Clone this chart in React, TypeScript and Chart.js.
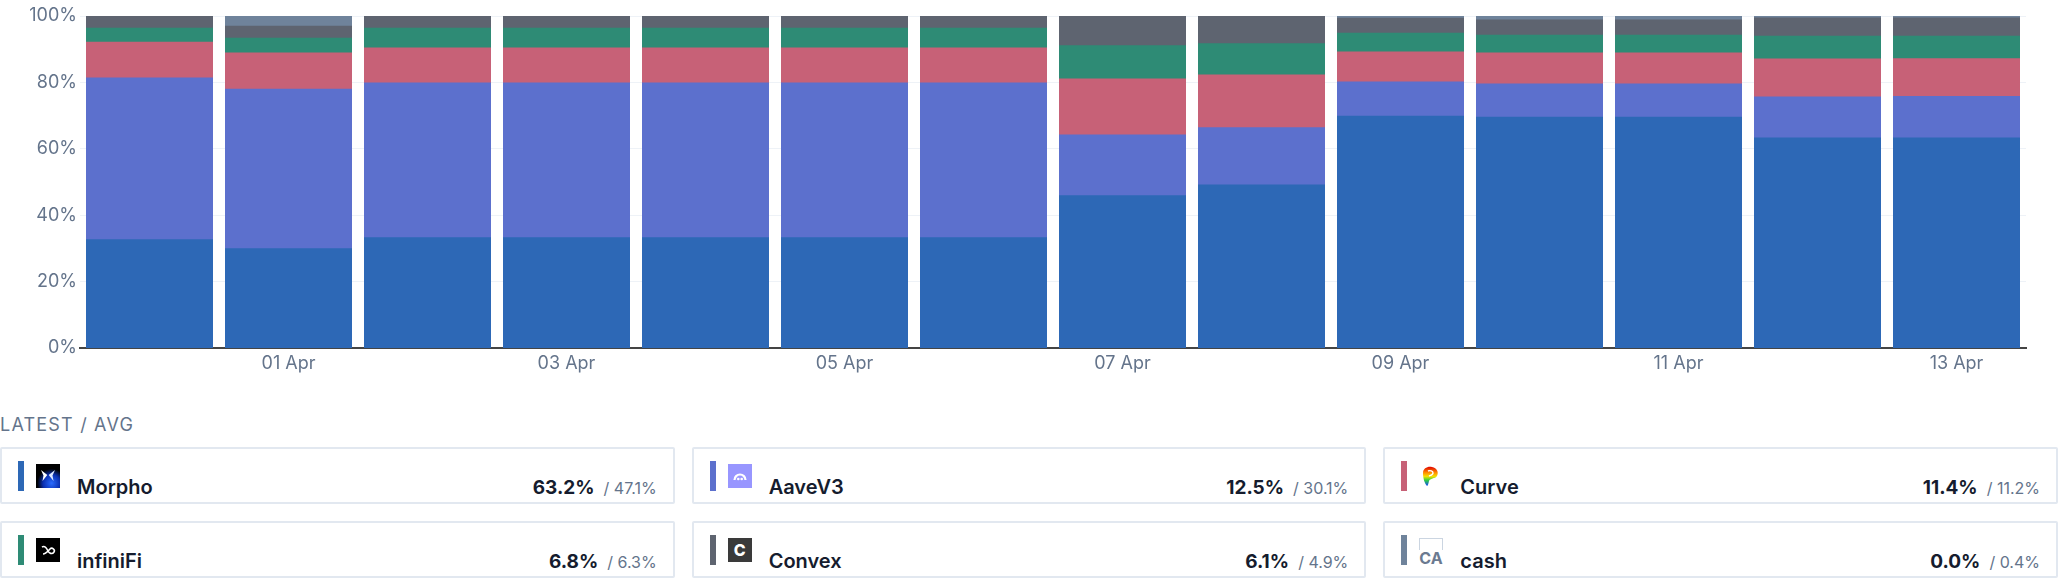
import React, { useEffect, useRef } from "react";
import { Chart, registerables } from "chart.js";

Chart.register(...registerables);

const dates = [
  "31 Mar", "01 Apr", "02 Apr", "03 Apr", "04 Apr", "05 Apr", "06 Apr",
  "07 Apr", "08 Apr", "09 Apr", "10 Apr", "11 Apr", "12 Apr", "13 Apr",
];
const shownTickLabels = ["01 Apr", "03 Apr", "05 Apr", "07 Apr", "09 Apr", "11 Apr", "13 Apr"];
const yTickValues = [0, 20, 40, 60, 80, 100];

const morpho = [32.6, 29.9, 33.2, 33.2, 33.2, 33.2, 33.2, 45.8, 49.1, 69.8, 69.5, 69.5, 63.2, 63.2];
const aaveV3 = [48.7, 48.0, 46.6, 46.6, 46.6, 46.6, 46.6, 18.3, 17.2, 10.3, 10.0, 10.0, 12.4, 12.5];
const curve = [10.8, 10.9, 10.5, 10.5, 10.5, 10.5, 10.5, 16.9, 15.9, 9.0, 9.3, 9.3, 11.4, 11.4];
const infiniFi = [4.2, 4.5, 6.0, 6.0, 6.0, 6.0, 6.0, 10.0, 9.4, 5.7, 5.4, 5.4, 6.9, 6.8];
const convex = [3.7, 3.6, 3.7, 3.7, 3.7, 3.7, 3.7, 9.0, 8.4, 4.5, 4.6, 4.6, 5.5, 5.5];
const cash = [0, 3.1, 0, 0, 0, 0, 0, 0, 0, 0.7, 1.2, 1.2, 0.6, 0.6];

const seriesNames = ["Morpho", "AaveV3", "Curve", "infiniFi", "Convex", "cash"];
const seriesColors = ["#2d68b6", "#5c70cd", "#c76177", "#2e8b75", "#5e6470", "#6f839b"];
const seriesValues = [morpho, aaveV3, curve, infiniFi, convex, cash];

const latestValues = ["63.2%", "12.5%", "11.4%", "6.8%", "6.1%", "0.0%"];
const avgValues = ["47.1%", "30.1%", "11.2%", "6.3%", "4.9%", "0.4%"];
const cardOrder = ["Morpho", "AaveV3", "Curve", "infiniFi", "Convex", "cash"];

const FONT = "Inter, 'Noto Sans', sans-serif";
const TICK_COLOR = "#64748b";

function Icon({ name }: { name: string }) {
  const box: React.CSSProperties = {
    position: "absolute",
    left: 34,
    top: 15,
    width: 24,
    height: 24,
  };
  if (name === "Morpho") {
    return (
      <svg style={box} viewBox="0 0 24 24">
        <defs>
          <radialGradient id="mg" cx="0.65" cy="0.8" r="0.6">
            <stop offset="0" stopColor="#2a6bff" />
            <stop offset="0.6" stopColor="#0a2fb0" />
            <stop offset="1" stopColor="#000" />
          </radialGradient>
        </defs>
        <rect width="24" height="24" fill="#000" />
        <rect width="24" height="24" fill="url(#mg)" />
        <path d="M5 6 L11.3 11 L6.5 17 L7.5 11.5 Z" fill="#fff" />
        <path d="M19 6 L12.7 11 L17.5 17 L16.5 11.5 Z" fill="#dfe8ff" />
      </svg>
    );
  }
  if (name === "AaveV3") {
    return (
      <svg style={box} viewBox="0 0 24 24">
        <rect width="24" height="24" fill="#9896ff" />
        <path d="M6.5 16 A5.5 5.5 0 0 1 17.5 16" stroke="#fff" strokeWidth="2.2" fill="none" />
        <circle cx="10.3" cy="15" r="1.3" fill="#fff" />
        <circle cx="13.7" cy="15" r="1.3" fill="#fff" />
      </svg>
    );
  }
  if (name === "Curve") {
    return (
      <svg style={box} viewBox="0 0 24 24">
        <defs>
          <linearGradient id="cg" x1="0" y1="0" x2="0" y2="1">
            <stop offset="0" stopColor="#e00000" />
            <stop offset="0.3" stopColor="#ff8a00" />
            <stop offset="0.5" stopColor="#f6e000" />
            <stop offset="0.7" stopColor="#30d040" />
            <stop offset="1" stopColor="#1040ff" />
          </linearGradient>
        </defs>
        <path
          d="M4 9 C4 4, 9 2, 13 3 C18 4, 20 8, 18 12 C16 15, 11 14, 10 17 C9.5 19, 9 22, 8 22 C6 20, 4 15, 4 9 Z"
          fill="url(#cg)"
        />
        <path d="M9 7 C11 6, 14 7, 14 9 C14 11, 11 11.5, 10 12" stroke="#fff" strokeWidth="1.4" fill="none" />
      </svg>
    );
  }
  if (name === "infiniFi") {
    return (
      <svg style={box} viewBox="0 0 24 24">
        <rect width="24" height="24" fill="#000" />
        <path
          d="M6 9 C9 7, 11 11, 12 13 C13 15, 16 17, 18 14 C19.5 11.5, 16 9, 14 11 C12 13, 10 16, 7 16"
          stroke="#fff"
          strokeWidth="1.6"
          fill="none"
        />
      </svg>
    );
  }
  if (name === "Convex") {
    return (
      <div
        style={{
          ...box,
          background: "#3a3a3a",
          color: "#fff",
          fontFamily: FONT,
          fontWeight: 800,
          fontSize: 16,
          lineHeight: "24px",
          textAlign: "center",
        }}
      >
        C
      </div>
    );
  }
  return (
    <div style={{ ...box, boxSizing: "border-box", border: "1.5px solid #cbd5e1" }}>
      <span
        style={{
          position: "absolute",
          left: -2,
          top: 11,
          fontFamily: FONT,
          fontWeight: 700,
          fontSize: 16,
          lineHeight: "16px",
          color: "#6b7a90",
          background: "#fff",
          padding: "0 1px",
        }}
      >
        CA
      </span>
    </div>
  );
}

function Card({ name }: { name: string }) {
  const idx = seriesNames.indexOf(name);
  const ci = cardOrder.indexOf(name);
  return (
    <div
      style={{
        position: "relative",
        height: 57,
        boxSizing: "border-box",
        border: "2px solid #e2e8f0",
        borderRadius: 2,
        background: "#fff",
      }}
    >
      <div
        style={{
          position: "absolute",
          left: 16,
          top: 12,
          width: 6,
          height: 30,
          background: seriesColors[idx],
        }}
      />
      <Icon name={name} />
      <div
        style={{
          position: "absolute",
          left: 75,
          right: 16,
          top: 28,
          height: 20,
          display: "flex",
          alignItems: "baseline",
          justifyContent: "space-between",
          fontFamily: FONT,
          lineHeight: "20px",
        }}
      >
        <span style={{ fontSize: 20, fontWeight: 600, color: "#151c2e" }}>{name}</span>
        <span style={{ display: "flex", alignItems: "baseline" }}>
          <span style={{ fontSize: 19, fontWeight: 700, color: "#151c2e" }}>{latestValues[ci]}</span>
          <span style={{ fontSize: 16, fontWeight: 400, color: "#64748b", marginLeft: 9 }}>
            / {avgValues[ci]}
          </span>
        </span>
      </div>
    </div>
  );
}

export default function App() {
  const canvasRef = useRef<HTMLCanvasElement | null>(null);

  useEffect(() => {
    document.body.style.margin = "0";
    document.body.style.background = "#fff";
    const canvas = canvasRef.current;
    if (!canvas) return;
    const chart = new Chart(canvas, {
      type: "bar",
      data: {
        labels: dates,
        datasets: seriesNames.map((n, i) => ({
          label: n,
          data: seriesValues[i],
          backgroundColor: seriesColors[i],
          borderWidth: 0,
          inflateAmount: 0.6,
          categoryPercentage: 1,
          barPercentage: 0.905,
        })),
      },
      options: {
        animation: false,
        responsive: true,
        maintainAspectRatio: false,
        layout: { padding: { top: 16, right: 32, left: 0, bottom: 0 } },
        plugins: {
          legend: { display: false },
          tooltip: { enabled: false },
        },
        scales: {
          x: {
            stacked: true,
            grid: { display: false, drawTicks: false },
            border: { display: true, color: "#444444", width: 2 },
            ticks: {
              autoSkip: false,
              maxRotation: 0,
              padding: 5,
              color: TICK_COLOR,
              font: { family: FONT, size: 18 },
              callback: (_v: any, i: number) =>
                shownTickLabels.includes(dates[i]) ? dates[i] : "",
            },
            afterFit: (s: any) => {
              s.height = 32;
            },
          },
          y: {
            stacked: true,
            min: 0,
            max: 100,
            afterBuildTicks: (s: any) => {
              s.ticks = yTickValues.map((v) => ({ value: v }));
            },
            ticks: {
              padding: 3,
              color: TICK_COLOR,
              font: { family: FONT, size: 18 },
              callback: (v: any) => `${v}%`,
            },
            grid: { color: "#eef2f7", drawTicks: false, lineWidth: 1 },
            border: { display: false },
            afterFit: (s: any) => {
              s.width = 80;
            },
          },
        },
      },
    });
    return () => chart.destroy();
  }, []);

  return (
    <div style={{ width: "100%", background: "#fff" }}>
      <div style={{ position: "relative", width: "100%", height: 380 }}>
        <canvas ref={canvasRef} />
      </div>
      <div
        style={{
          marginTop: 36,
          height: 18,
          lineHeight: "18px",
          fontFamily: FONT,
          fontSize: 18,
          letterSpacing: 1.2,
          color: "#64748b",
        }}
      >
        LATEST / AVG
      </div>
      <div
        style={{
          marginTop: 13,
          display: "grid",
          gridTemplateColumns: "repeat(3, 1fr)",
          columnGap: 17,
          rowGap: 17,
        }}
      >
        {cardOrder.map((n) => (
          <Card key={n} name={n} />
        ))}
      </div>
    </div>
  );
}
